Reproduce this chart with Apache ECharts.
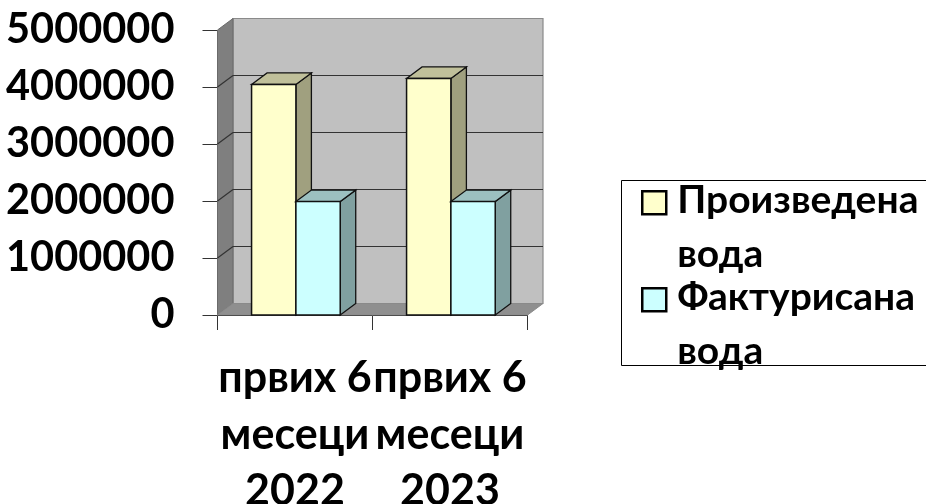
<!DOCTYPE html>
<html><head><meta charset="utf-8">
<style>html,body{margin:0;padding:0;background:#fff}#c{width:926px;height:504px}</style>
<script src="https://cdn.jsdelivr.net/npm/echarts@6/dist/echarts.min.js"></script>
</head><body><div id="c"></div>
<script>
const categories = ['првих 6\nмесеци\n2022', 'првих 6\nмесеци\n2023'];
const producedName = 'Произведена\nвода';
const billedName = 'Фактурисана\nвода';
const produced = [4045000, 4150000];
const billed = [1990000, 1990000];
const yTicks = [0, 1000000, 2000000, 3000000, 4000000, 5000000];

const DX = 15.5, DY = -11.5, BAR = 0.286, NUDGE = 0.9;
const FONT = 'Lato';
const chart = echarts.init(document.getElementById('c'), null, {renderer: 'canvas'});

function poly(pts, fill, stroke, lw, z) {
  return {type: 'polygon', z2: z || 0, shape: {points: pts},
    style: {fill: fill, stroke: stroke, lineWidth: lw}};
}
function line(a, b, stroke, lw) {
  return {type: 'line', shape: {x1: a[0], y1: a[1], x2: b[0], y2: b[1]},
    style: {stroke: stroke, lineWidth: lw, fill: null}};
}
function wallsItem(params, api) {
  const g = params.coordSys;
  const l = g.x, r = g.x + g.width, t = g.y, b = g.y + g.height;
  const kids = [
    poly([[l + DX, t + DY], [r + DX, t + DY], [r + DX, b + DY], [l + DX, b + DY]], '#c0c0c0', '#8a8a8a', 1.2),
    poly([[l, t], [l + DX, t + DY], [l + DX, b + DY], [l, b]], '#7f7f7f', '#6a6a6a', 1),
    poly([[l, b], [l + DX, b + DY], [r + DX, b + DY], [r, b]], '#8f8f8f', '#8a8a8a', 1)
  ];
  yTicks.forEach(function (v) {
    if (v === yTicks[0] || v === yTicks[yTicks.length - 1]) return;
    const y = api.coord([0, v])[1];
    kids.push(line([l, y], [l + DX, y + DY], '#333', 1.2));
    kids.push(line([l + DX, y + DY], [r + DX, y + DY], '#333', 1.2));
  });
  return {type: 'group', children: kids};
}
function barItem(slot, front, top, side) {
  return function (params, api) {
    const p = api.coord([api.value(0), api.value(1)]);
    const base = api.coord([api.value(0), 0]);
    const band = api.size([1, 0])[0];
    const w = band * BAR;
    const x0 = p[0] + NUDGE - w + slot * w, x1 = x0 + w, y = p[1], b = base[1];
    const s = '#111';
    return {type: 'group', children: [
      poly([[x1, y], [x1 + DX, y + DY], [x1 + DX, b + DY], [x1, b]], side, s, 1.3),
      poly([[x0, y], [x0 + DX, y + DY], [x1 + DX, y + DY], [x1, y]], top, s, 1.3),
      poly([[x0, y], [x1, y], [x1, b], [x0, b]], front, s, 1.5)
    ]};
  };
}

chart.setOption({
  animation: false,
  backgroundColor: '#fff',
  textStyle: {fontFamily: FONT},
  grid: {left: 217.5, width: 310, top: 30, height: 285, containLabel: false, outerBoundsMode: 'none'},
  xAxis: {
    type: 'category', data: categories,
    axisLine: {show: true, onZero: false, lineStyle: {color: '#111', width: 1}},
    axisTick: {show: true, length: 15, lineStyle: {color: '#333', width: 1}},
    axisLabel: {interval: 0, margin: 35, fontFamily: FONT, fontWeight: 'bold', fontSize: 43, lineHeight: 56.5, color: '#000'},
    splitLine: {show: false}
  },
  yAxis: {
    type: 'value', min: 0, max: 5000000, interval: 1000000,
    axisLine: {show: false},
    axisTick: {show: true, length: 15, lineStyle: {color: '#333', width: 1}},
    axisLabel: {margin: 43, fontFamily: FONT, fontWeight: 'bold', fontSize: 41.5, color: '#000', formatter: function (v) { return String(v); }},
    splitLine: {show: false}
  },
  legend: {
    show: true, left: 641, top: 172, orient: 'vertical', padding: 0, itemGap: -13.5,
    itemWidth: 30, itemHeight: 108, selectedMode: false,
    icon: 'path://M30 0H30Z M0 18H24V41H0Z M30 108H30Z',
    itemStyle: {borderColor: '#000', borderWidth: 2.5},
    textStyle: {fontFamily: FONT, fontWeight: 'bold', fontSize: 39, lineHeight: 54, color: '#000'},
    data: [producedName, billedName]
  },
  graphic: [{type: 'rect', z: -1, shape: {x: 621.5, y: 180.5, width: 330, height: 185},
    style: {fill: '#fff', stroke: '#000', lineWidth: 1}}],
  series: [
    {type: 'custom', silent: true, clip: false, z: 1, data: [[0, 0]], renderItem: wallsItem, encode: {x: 0, y: 1}},
    {type: 'custom', name: producedName, clip: false, z: 2, itemStyle: {color: '#ffffcc'},
      data: produced.map(function (v, i) { return [i, v]; }), encode: {x: 0, y: 1},
      renderItem: barItem(0, '#ffffcc', '#c0c09a', '#a0a07f')},
    {type: 'custom', name: billedName, clip: false, z: 3, itemStyle: {color: '#ccffff'},
      data: billed.map(function (v, i) { return [i, v]; }), encode: {x: 0, y: 1},
      renderItem: barItem(1, '#ccffff', '#9cc0c0', '#80a0a0')}
  ]
});
</script></body></html>
